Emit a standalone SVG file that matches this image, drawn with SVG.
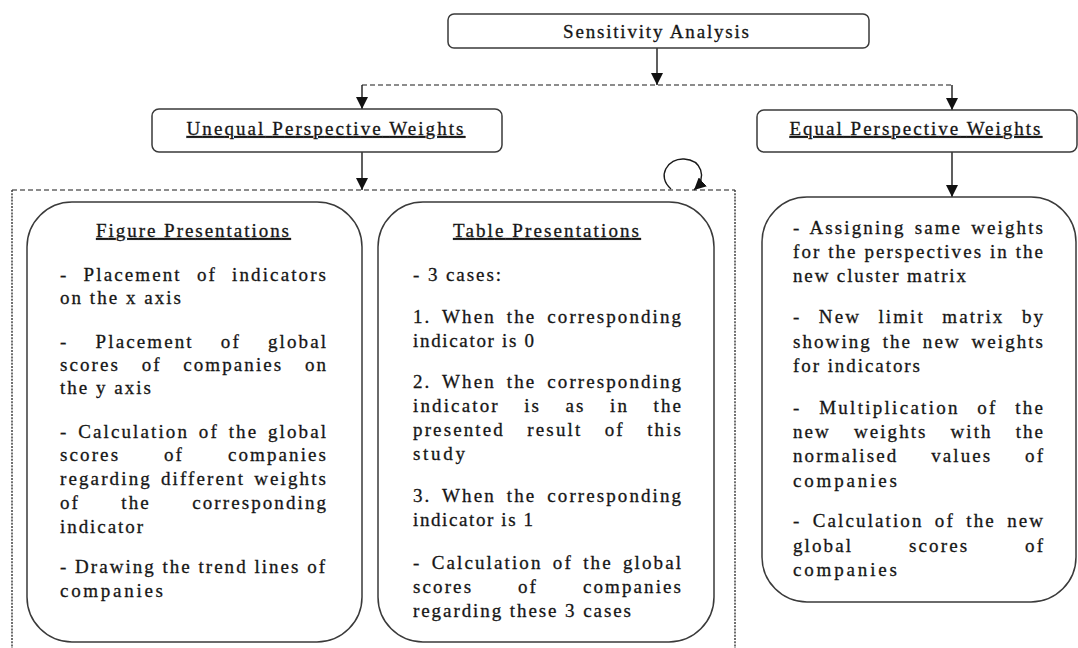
<svg xmlns="http://www.w3.org/2000/svg" width="1078" height="648" viewBox="0 0 1078 648">
  <style>
    .box { fill: #fff; stroke: #3a3a3a; stroke-width: 1.5; }
    .t { font-family: "Liberation Serif", "Times New Roman", serif; font-size: 19px; letter-spacing: 2px; fill: #161616; stroke: #161616; stroke-width: 0.3; }
    .ttl { text-decoration: underline; }
    .c { text-anchor: middle; }
    .solid { fill: none; stroke: #1a1a1a; stroke-width: 1.4; }
    .dash { fill: none; stroke: #1a1a1a; stroke-width: 1.2; stroke-dasharray: 5 3; }
    .dot { fill: none; stroke: #333; stroke-width: 1.4; stroke-dasharray: 2 1.2; }
  </style>
  <defs>
    <marker id="arrow" viewBox="0 0 10 10" refX="10" refY="5" markerWidth="12" markerHeight="12" markerUnits="userSpaceOnUse" orient="auto">
      <path d="M0,0 L10,5 L0,10 z" fill="#111"/>
    </marker>
  </defs>
  <rect width="1078" height="648" fill="#fff"/>

  <!-- connectors -->
  <g id="connectors">
    <line class="solid" x1="657" y1="48" x2="657" y2="85" marker-end="url(#arrow)"/>
    <line class="dash" x1="362" y1="85" x2="952" y2="85"/>
    <line class="solid" x1="362" y1="85" x2="362" y2="109" marker-end="url(#arrow)"/>
    <line class="solid" x1="952" y1="85" x2="952" y2="110" marker-end="url(#arrow)"/>
    <line class="solid" x1="362" y1="152" x2="362" y2="190" marker-end="url(#arrow)"/>
    <line class="solid" x1="952" y1="152" x2="952" y2="197" marker-end="url(#arrow)"/>
    <!-- dashed frame around the unequal-weights branch -->
    <line class="dash" x1="12" y1="190" x2="735" y2="190"/>
    <line class="dot" x1="12" y1="190" x2="12" y2="648"/>
    <line class="dot" x1="735" y1="190" x2="735" y2="648"/>
    <!-- loop arrow -->
    <path class="solid" d="M671,189 C656,176 668,158 684,159 C701,160 708,177 694,190" marker-end="url(#arrow)"/>
  </g>

  <g id="sensitivity">
    <rect class="box" x="448" y="14" width="421" height="34" rx="6"/>
    <text class="t c" x="657" y="38" textLength="188" lengthAdjust="spacing">Sensitivity Analysis</text>
  </g>

  <g id="unequal">
    <rect class="box" x="152" y="109" width="350" height="43" rx="7"/>
    <text class="t c ttl" x="326" y="135" textLength="279" lengthAdjust="spacing">Unequal Perspective Weights</text>
  </g>

  <g id="equal">
    <rect class="box" x="757" y="110" width="320" height="42" rx="7"/>
    <text class="t c ttl" x="916" y="135" textLength="253" lengthAdjust="spacing">Equal Perspective Weights</text>
  </g>

  <g id="figure">
    <rect class="box" x="27" y="202" width="335" height="440" rx="45"/>
    <text class="t c ttl" x="193.5" y="237" textLength="195" lengthAdjust="spacing">Figure Presentations</text>
    <text class="t" x="60" y="281" word-spacing="8.3" textLength="268" lengthAdjust="spacing">- Placement of indicators</text>
    <text class="t" x="60" y="304" textLength="123" lengthAdjust="spacing">on the x axis</text>
    <text class="t" x="60" y="348" word-spacing="20.3" textLength="268" lengthAdjust="spacing">- Placement of global</text>
    <text class="t" x="60" y="371" word-spacing="14.8" textLength="268" lengthAdjust="spacing">scores of companies on</text>
    <text class="t" x="60" y="394" textLength="93" lengthAdjust="spacing">the y axis</text>
    <text class="t" x="60" y="438" word-spacing="2.9" textLength="268" lengthAdjust="spacing">- Calculation of the global</text>
    <text class="t" x="60" y="461" word-spacing="37" textLength="268" lengthAdjust="spacing">scores of companies</text>
    <text class="t" x="60" y="485" word-spacing="2.2" textLength="268" lengthAdjust="spacing">regarding different weights</text>
    <text class="t" x="60" y="509" word-spacing="34.5" textLength="268" lengthAdjust="spacing">of the corresponding</text>
    <text class="t" x="60" y="533" textLength="85" lengthAdjust="spacing">indicator</text>
    <text class="t" x="60" y="573" textLength="267" lengthAdjust="spacing">- Drawing the trend lines of</text>
    <text class="t" x="60" y="597" textLength="105" lengthAdjust="spacing">companies</text>
  </g>

  <g id="table">
    <rect class="box" x="378" y="202" width="336" height="440" rx="45"/>
    <text class="t c ttl" x="547" y="237" textLength="188" lengthAdjust="spacing">Table Presentations</text>
    <text class="t" x="413" y="281" textLength="90" lengthAdjust="spacing">- 3 cases:</text>
    <text class="t" x="413" y="323" word-spacing="4.2" textLength="270" lengthAdjust="spacing">1. When the corresponding</text>
    <text class="t" x="413" y="347" textLength="123" lengthAdjust="spacing">indicator is 0</text>
    <text class="t" x="413" y="388" word-spacing="4.2" textLength="270" lengthAdjust="spacing">2. When the corresponding</text>
    <text class="t" x="413" y="412" word-spacing="17.5" textLength="270" lengthAdjust="spacing">indicator is as in the</text>
    <text class="t" x="413" y="436" word-spacing="15.5" textLength="270" lengthAdjust="spacing">presented result of this</text>
    <text class="t" x="413" y="460" textLength="54" lengthAdjust="spacing">study</text>
    <text class="t" x="413" y="502" word-spacing="4.2" textLength="270" lengthAdjust="spacing">3. When the corresponding</text>
    <text class="t" x="413" y="526" textLength="122" lengthAdjust="spacing">indicator is 1</text>
    <text class="t" x="413" y="569" word-spacing="3.4" textLength="270" lengthAdjust="spacing">- Calculation of the global</text>
    <text class="t" x="413" y="593" word-spacing="38" textLength="270" lengthAdjust="spacing">scores of companies</text>
    <text class="t" x="413" y="617" textLength="220" lengthAdjust="spacing">regarding these 3 cases</text>
  </g>

  <g id="equal-steps">
    <rect class="box" x="762" y="197" width="314" height="405" rx="45"/>
    <text class="t" x="793" y="234" word-spacing="2.2" textLength="252" lengthAdjust="spacing">- Assigning same weights</text>
    <text class="t" x="793" y="258" textLength="252" lengthAdjust="spacing">for the perspectives in the</text>
    <text class="t" x="793" y="282" textLength="175" lengthAdjust="spacing">new cluster matrix</text>
    <text class="t" x="793" y="323" word-spacing="10.6" textLength="252" lengthAdjust="spacing">- New limit matrix by</text>
    <text class="t" x="793" y="348" word-spacing="4" textLength="252" lengthAdjust="spacing">showing the new weights</text>
    <text class="t" x="793" y="372" textLength="129" lengthAdjust="spacing">for indicators</text>
    <text class="t" x="793" y="414" word-spacing="10.5" textLength="252" lengthAdjust="spacing">- Multiplication of the</text>
    <text class="t" x="793" y="438" word-spacing="16.2" textLength="252" lengthAdjust="spacing">new weights with the</text>
    <text class="t" x="793" y="462" word-spacing="26" textLength="252" lengthAdjust="spacing">normalised values of</text>
    <text class="t" x="793" y="487" textLength="106" lengthAdjust="spacing">companies</text>
    <text class="t" x="793" y="527" word-spacing="4.5" textLength="252" lengthAdjust="spacing">- Calculation of the new</text>
    <text class="t" x="793" y="552" word-spacing="49" textLength="252" lengthAdjust="spacing">global scores of</text>
    <text class="t" x="793" y="576" textLength="106" lengthAdjust="spacing">companies</text>
  </g>
</svg>
